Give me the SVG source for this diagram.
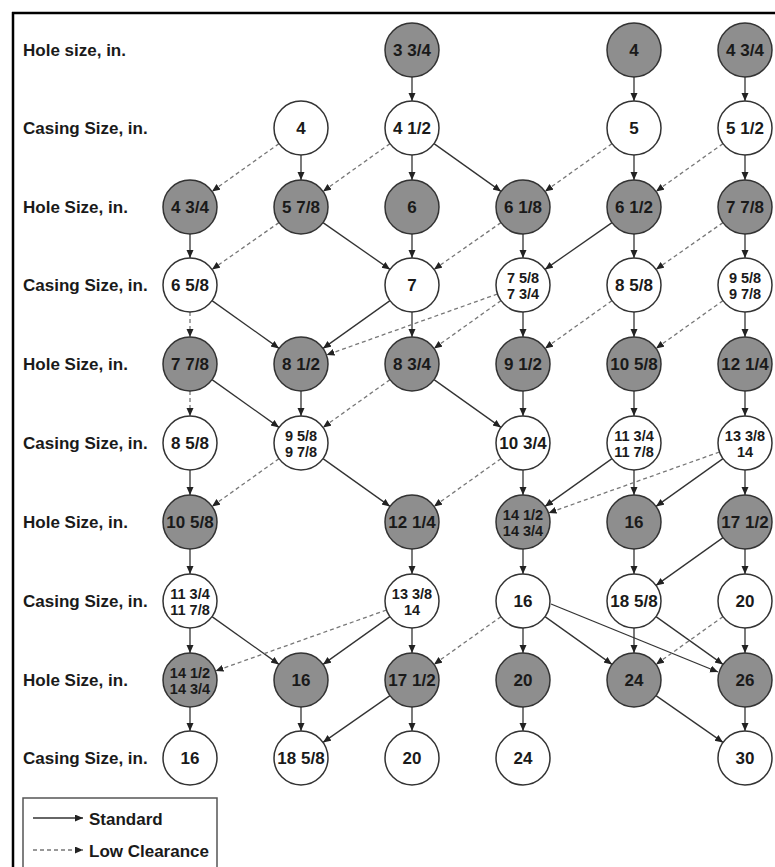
<svg xmlns="http://www.w3.org/2000/svg" width="775" height="867" viewBox="0 0 775 867">
<defs>
<marker id="ah" markerUnits="userSpaceOnUse" markerWidth="9" markerHeight="8" refX="8" refY="3.5" orient="auto">
<path d="M0,0 L8,3.5 L0,7 z" fill="#222" stroke="none"/>
</marker>
<style>
.hole{fill:#8e8e8e;stroke:#333;stroke-width:1.5}
.cas{fill:#fff;stroke:#333;stroke-width:1.5}
.t{font-family:"Liberation Sans",Arial,sans-serif;font-weight:bold;font-size:17px;fill:#1a1a1a;text-anchor:middle}
.t2{font-family:"Liberation Sans",Arial,sans-serif;font-weight:bold;font-size:14.5px;fill:#1a1a1a;text-anchor:middle}
.lab{font-family:"Liberation Sans",Arial,sans-serif;font-weight:bold;font-size:17px;fill:#1a1a1a}
.std{stroke:#333;stroke-width:1.3;fill:none;marker-end:url(#ah)}
.low{stroke:#777;stroke-width:1.3;stroke-dasharray:4 3;fill:none;marker-end:url(#ah)}
</style>
</defs>
<rect width="775" height="867" fill="#fff"/>
<g id="frame" stroke="#000" stroke-width="2.5">
<line x1="12" y1="13" x2="775" y2="13"/>
<line x1="13" y1="12" x2="13" y2="867"/>
</g>
<g id="row-labels" class="lab">
<text x="23" y="56">Hole size, in.</text>
<text x="23" y="134">Casing Size, in.</text>
<text x="23" y="213">Hole Size, in.</text>
<text x="23" y="291">Casing Size, in.</text>
<text x="23" y="370">Hole Size, in.</text>
<text x="23" y="449">Casing Size, in.</text>
<text x="23" y="528">Hole Size, in.</text>
<text x="23" y="607">Casing Size, in.</text>
<text x="23" y="686">Hole Size, in.</text>
<text x="23" y="764">Casing Size, in.</text>
</g>
<g id="connectors">
<line class="std" x1="412" y1="77" x2="412" y2="101"/>
<line class="std" x1="634" y1="77" x2="634" y2="101"/>
<line class="std" x1="745" y1="77" x2="745" y2="101"/>
<line class="std" x1="301" y1="155" x2="301" y2="180"/>
<line class="std" x1="412" y1="155" x2="412" y2="180"/>
<line class="std" x1="434" y1="143.6" x2="501" y2="191.4"/>
<line class="std" x1="634" y1="155" x2="634" y2="180"/>
<line class="std" x1="745" y1="155" x2="745" y2="180"/>
<line class="std" x1="190" y1="234" x2="190" y2="258"/>
<line class="std" x1="323" y1="222.6" x2="390" y2="269.4"/>
<line class="std" x1="412" y1="234" x2="412" y2="258"/>
<line class="std" x1="523" y1="234" x2="523" y2="258"/>
<line class="std" x1="612" y1="222.6" x2="545" y2="269.4"/>
<line class="std" x1="634" y1="234" x2="634" y2="258"/>
<line class="std" x1="745" y1="234" x2="745" y2="258"/>
<line class="std" x1="212" y1="300.6" x2="279" y2="348.4"/>
<line class="std" x1="390" y1="300.6" x2="323" y2="348.4"/>
<line class="std" x1="412" y1="312" x2="412" y2="337"/>
<line class="std" x1="523" y1="312" x2="523" y2="337"/>
<line class="std" x1="634" y1="312" x2="634" y2="337"/>
<line class="std" x1="745" y1="312" x2="745" y2="337"/>
<line class="std" x1="212" y1="379.6" x2="279" y2="427.4"/>
<line class="std" x1="301" y1="391" x2="301" y2="416"/>
<line class="std" x1="434" y1="379.6" x2="501" y2="427.4"/>
<line class="std" x1="523" y1="391" x2="523" y2="416"/>
<line class="std" x1="634" y1="391" x2="634" y2="416"/>
<line class="std" x1="745" y1="391" x2="745" y2="416"/>
<line class="std" x1="190" y1="470" x2="190" y2="495"/>
<line class="std" x1="323" y1="458.6" x2="390" y2="506.4"/>
<line class="std" x1="523" y1="470" x2="523" y2="495"/>
<line class="std" x1="612" y1="458.6" x2="545" y2="506.4"/>
<line class="std" x1="634" y1="470" x2="634" y2="495"/>
<line class="std" x1="723" y1="458.6" x2="656" y2="506.4"/>
<line class="std" x1="745" y1="470" x2="745" y2="495"/>
<line class="std" x1="190" y1="549" x2="190" y2="574"/>
<line class="std" x1="412" y1="549" x2="412" y2="574"/>
<line class="std" x1="523" y1="549" x2="523" y2="574"/>
<line class="std" x1="634" y1="549" x2="634" y2="574"/>
<line class="std" x1="723" y1="537.6" x2="656" y2="585.4"/>
<line class="std" x1="745" y1="549" x2="745" y2="574"/>
<line class="std" x1="190" y1="628" x2="190" y2="653"/>
<line class="std" x1="212" y1="616.6" x2="279" y2="664.4"/>
<line class="std" x1="390" y1="616.6" x2="323" y2="664.4"/>
<line class="std" x1="412" y1="628" x2="412" y2="653"/>
<line class="std" x1="523" y1="628" x2="523" y2="653"/>
<line class="std" x1="545" y1="616.6" x2="612" y2="664.4"/>
<line class="std" x1="551" y1="604" x2="718" y2="672"/>
<line class="std" x1="634" y1="628" x2="634" y2="653"/>
<line class="std" x1="656" y1="616.6" x2="723" y2="664.4"/>
<line class="std" x1="745" y1="628" x2="745" y2="653"/>
<line class="std" x1="190" y1="707" x2="190" y2="731"/>
<line class="std" x1="301" y1="707" x2="301" y2="731"/>
<line class="std" x1="390" y1="695.6" x2="323" y2="742.4"/>
<line class="std" x1="412" y1="707" x2="412" y2="731"/>
<line class="std" x1="523" y1="707" x2="523" y2="731"/>
<line class="std" x1="656" y1="695.6" x2="723" y2="742.4"/>
<line class="std" x1="745" y1="707" x2="745" y2="731"/>
<line class="low" x1="279" y1="143.6" x2="212" y2="191.4"/>
<line class="low" x1="390" y1="143.6" x2="323" y2="191.4"/>
<line class="low" x1="612" y1="143.6" x2="545" y2="191.4"/>
<line class="low" x1="723" y1="143.6" x2="656" y2="191.4"/>
<line class="low" x1="279" y1="222.6" x2="212" y2="269.4"/>
<line class="low" x1="501" y1="222.6" x2="434" y2="269.4"/>
<line class="low" x1="723" y1="222.6" x2="656" y2="269.4"/>
<line class="low" x1="190" y1="312" x2="190" y2="337"/>
<line class="low" x1="497.5" y1="294" x2="326.5" y2="355"/>
<line class="low" x1="501" y1="300.6" x2="434" y2="348.4"/>
<line class="low" x1="612" y1="300.6" x2="545" y2="348.4"/>
<line class="low" x1="723" y1="300.6" x2="656" y2="348.4"/>
<line class="low" x1="190" y1="391" x2="190" y2="416"/>
<line class="low" x1="390" y1="379.6" x2="323" y2="427.4"/>
<line class="low" x1="279" y1="458.6" x2="212" y2="506.4"/>
<line class="low" x1="501" y1="458.6" x2="434" y2="506.4"/>
<line class="low" x1="719.5" y1="452" x2="548.5" y2="513"/>
<line class="low" x1="386.5" y1="610" x2="215.5" y2="671"/>
<line class="low" x1="501" y1="616.6" x2="434" y2="664.4"/>
<line class="low" x1="723" y1="616.6" x2="656" y2="664.4"/>
</g>
<g id="nodes">
<g id="h1-c3"><circle class="hole" cx="412" cy="50" r="27"/><text class="t" x="412" y="56">3 3/4</text></g>
<g id="h1-c5"><circle class="hole" cx="634" cy="50" r="27"/><text class="t" x="634" y="56">4</text></g>
<g id="h1-c6"><circle class="hole" cx="745" cy="50" r="27"/><text class="t" x="745" y="56">4 3/4</text></g>
<g id="c2-c2"><circle class="cas" cx="301" cy="128" r="27"/><text class="t" x="301" y="134">4</text></g>
<g id="c2-c3"><circle class="cas" cx="412" cy="128" r="27"/><text class="t" x="412" y="134">4 1/2</text></g>
<g id="c2-c5"><circle class="cas" cx="634" cy="128" r="27"/><text class="t" x="634" y="134">5</text></g>
<g id="c2-c6"><circle class="cas" cx="745" cy="128" r="27"/><text class="t" x="745" y="134">5 1/2</text></g>
<g id="h3-c1"><circle class="hole" cx="190" cy="207" r="27"/><text class="t" x="190" y="213">4 3/4</text></g>
<g id="h3-c2"><circle class="hole" cx="301" cy="207" r="27"/><text class="t" x="301" y="213">5 7/8</text></g>
<g id="h3-c3"><circle class="hole" cx="412" cy="207" r="27"/><text class="t" x="412" y="213">6</text></g>
<g id="h3-c4"><circle class="hole" cx="523" cy="207" r="27"/><text class="t" x="523" y="213">6 1/8</text></g>
<g id="h3-c5"><circle class="hole" cx="634" cy="207" r="27"/><text class="t" x="634" y="213">6 1/2</text></g>
<g id="h3-c6"><circle class="hole" cx="745" cy="207" r="27"/><text class="t" x="745" y="213">7 7/8</text></g>
<g id="c4-c1"><circle class="cas" cx="190" cy="285" r="27"/><text class="t" x="190" y="291">6 5/8</text></g>
<g id="c4-c3"><circle class="cas" cx="412" cy="285" r="27"/><text class="t" x="412" y="291">7</text></g>
<g id="c4-c4"><circle class="cas" cx="523" cy="285" r="27"/><text class="t2" x="523" y="283">7 5/8</text><text class="t2" x="523" y="299">7 3/4</text></g>
<g id="c4-c5"><circle class="cas" cx="634" cy="285" r="27"/><text class="t" x="634" y="291">8 5/8</text></g>
<g id="c4-c6"><circle class="cas" cx="745" cy="285" r="27"/><text class="t2" x="745" y="283">9 5/8</text><text class="t2" x="745" y="299">9 7/8</text></g>
<g id="h5-c1"><circle class="hole" cx="190" cy="364" r="27"/><text class="t" x="190" y="370">7 7/8</text></g>
<g id="h5-c2"><circle class="hole" cx="301" cy="364" r="27"/><text class="t" x="301" y="370">8 1/2</text></g>
<g id="h5-c3"><circle class="hole" cx="412" cy="364" r="27"/><text class="t" x="412" y="370">8 3/4</text></g>
<g id="h5-c4"><circle class="hole" cx="523" cy="364" r="27"/><text class="t" x="523" y="370">9 1/2</text></g>
<g id="h5-c5"><circle class="hole" cx="634" cy="364" r="27"/><text class="t" x="634" y="370">10 5/8</text></g>
<g id="h5-c6"><circle class="hole" cx="745" cy="364" r="27"/><text class="t" x="745" y="370">12 1/4</text></g>
<g id="c6-c1"><circle class="cas" cx="190" cy="443" r="27"/><text class="t" x="190" y="449">8 5/8</text></g>
<g id="c6-c2"><circle class="cas" cx="301" cy="443" r="27"/><text class="t2" x="301" y="441">9 5/8</text><text class="t2" x="301" y="457">9 7/8</text></g>
<g id="c6-c4"><circle class="cas" cx="523" cy="443" r="27"/><text class="t" x="523" y="449">10 3/4</text></g>
<g id="c6-c5"><circle class="cas" cx="634" cy="443" r="27"/><text class="t2" x="634" y="441">11 3/4</text><text class="t2" x="634" y="457">11 7/8</text></g>
<g id="c6-c6"><circle class="cas" cx="745" cy="443" r="27"/><text class="t2" x="745" y="441">13 3/8</text><text class="t2" x="745" y="457">14</text></g>
<g id="h7-c1"><circle class="hole" cx="190" cy="522" r="27"/><text class="t" x="190" y="528">10 5/8</text></g>
<g id="h7-c3"><circle class="hole" cx="412" cy="522" r="27"/><text class="t" x="412" y="528">12 1/4</text></g>
<g id="h7-c4"><circle class="hole" cx="523" cy="522" r="27"/><text class="t2" x="523" y="520">14 1/2</text><text class="t2" x="523" y="536">14 3/4</text></g>
<g id="h7-c5"><circle class="hole" cx="634" cy="522" r="27"/><text class="t" x="634" y="528">16</text></g>
<g id="h7-c6"><circle class="hole" cx="745" cy="522" r="27"/><text class="t" x="745" y="528">17 1/2</text></g>
<g id="c8-c1"><circle class="cas" cx="190" cy="601" r="27"/><text class="t2" x="190" y="599">11 3/4</text><text class="t2" x="190" y="615">11 7/8</text></g>
<g id="c8-c3"><circle class="cas" cx="412" cy="601" r="27"/><text class="t2" x="412" y="599">13 3/8</text><text class="t2" x="412" y="615">14</text></g>
<g id="c8-c4"><circle class="cas" cx="523" cy="601" r="27"/><text class="t" x="523" y="607">16</text></g>
<g id="c8-c5"><circle class="cas" cx="634" cy="601" r="27"/><text class="t" x="634" y="607">18 5/8</text></g>
<g id="c8-c6"><circle class="cas" cx="745" cy="601" r="27"/><text class="t" x="745" y="607">20</text></g>
<g id="h9-c1"><circle class="hole" cx="190" cy="680" r="27"/><text class="t2" x="190" y="678">14 1/2</text><text class="t2" x="190" y="694">14 3/4</text></g>
<g id="h9-c2"><circle class="hole" cx="301" cy="680" r="27"/><text class="t" x="301" y="686">16</text></g>
<g id="h9-c3"><circle class="hole" cx="412" cy="680" r="27"/><text class="t" x="412" y="686">17 1/2</text></g>
<g id="h9-c4"><circle class="hole" cx="523" cy="680" r="27"/><text class="t" x="523" y="686">20</text></g>
<g id="h9-c5"><circle class="hole" cx="634" cy="680" r="27"/><text class="t" x="634" y="686">24</text></g>
<g id="h9-c6"><circle class="hole" cx="745" cy="680" r="27"/><text class="t" x="745" y="686">26</text></g>
<g id="c10-c1"><circle class="cas" cx="190" cy="758" r="27"/><text class="t" x="190" y="764">16</text></g>
<g id="c10-c2"><circle class="cas" cx="301" cy="758" r="27"/><text class="t" x="301" y="764">18 5/8</text></g>
<g id="c10-c3"><circle class="cas" cx="412" cy="758" r="27"/><text class="t" x="412" y="764">20</text></g>
<g id="c10-c4"><circle class="cas" cx="523" cy="758" r="27"/><text class="t" x="523" y="764">24</text></g>
<g id="c10-c6"><circle class="cas" cx="745" cy="758" r="27"/><text class="t" x="745" y="764">30</text></g>
</g>
<g id="legend">
<path d="M23,867 V798 H217 V867" fill="none" stroke="#555" stroke-width="1.5"/>
<line class="std" x1="33" y1="818" x2="83" y2="818"/>
<line class="low" x1="33" y1="850" x2="83" y2="850"/>
<text class="lab" x="89" y="825">Standard</text>
<text class="lab" x="89" y="857">Low Clearance</text>
</g>
</svg>
